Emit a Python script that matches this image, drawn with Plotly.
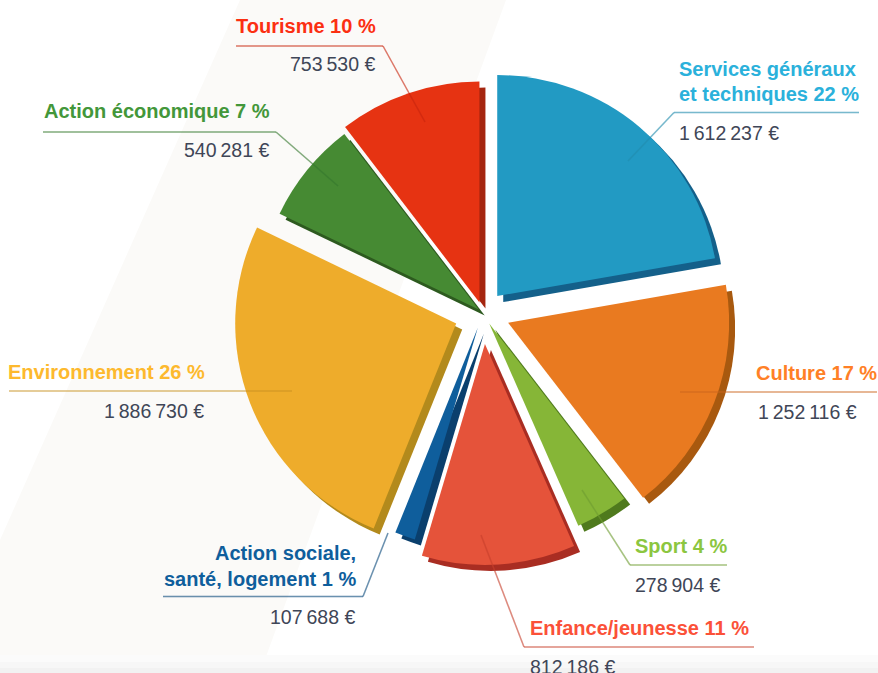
import plotly.graph_objects as go

W, H = 878, 673

categories = ["Services généraux et techniques", "Culture", "Sport", "Enfance/jeunesse",
              "Action sociale, santé, logement", "Environnement", "Action économique", "Tourisme"]
amounts = [1612237, 1252116, 278904, 812186, 107688, 1886730, 540281, 753530]

colors = ["#229ac3", "#e97a20", "#86b637", "#e5533a", "#0f5e9c", "#eeac2b", "#468a33", "#e63312"]
side_colors = ["#14608a", "#a8590f", "#4f7a1d", "#a92d22", "#0a3f6d", "#b38a1c", "#2d5a1f", "#a5250f"]
text_colors = ["#2bb1db", "#ff8026", "#8cc63f", "#fb5138", "#0f5e9c", "#fdb92e", "#43973a", "#fb2f12"]
pulls = [0.10, 0.122, 0.055, 0.14, 0.07, 0.13, 0.025, 0.05]

CX, CY, R = 483, 313, 221
OFF_X, OFF_Y = 6, 6


def px(x):
    return x / W


def py(y):
    return 1 - y / H


def fmt(v):
    return f"{v:,}".replace(",", "\u2009") + " €"


half = R * (1 + max(pulls))


def dom(dx=0, dy=0):
    return dict(x=[px(CX + dx - half), px(CX + dx + half)],
                y=[py(CY + dy + half), py(CY + dy - half)])


fig = go.Figure()
fig.add_trace(go.Pie(values=amounts, labels=categories, sort=False, direction="clockwise", rotation=0,
                     pull=pulls, domain=dom(OFF_X, OFF_Y), textinfo="none", hoverinfo="skip",
                     marker=dict(colors=side_colors, line=dict(width=0)), showlegend=False))
fig.add_trace(go.Pie(values=amounts, labels=categories, sort=False, direction="clockwise", rotation=0,
                     pull=pulls, domain=dom(), textinfo="none",
                     marker=dict(colors=colors, line=dict(width=0)), showlegend=False))

# Callout layout: title lines, anchor, text x, title y centres, amount x, amount y, leader polyline
callouts = [
    (0, ["Services généraux", "et techniques 22 %"], "left", 677, [69, 94], 677, 133, [(859, 112.5), (674, 112.5), (628, 161)]),
    (1, ["Culture 17 %"], "right", 879, [373], 859, 412, [(877, 392), (680, 392)]),
    (2, ["Sport 4 %"], "left", 633, [546], 633, 585, [(727, 565), (630, 565), (582, 490)]),
    (3, ["Enfance/jeunesse 11 %"], "left", 528, [628], 528, 667, [(754, 647), (524, 647), (481, 535)]),
    (4, ["Action sociale,", "santé, logement 1 %"], "right", 358, [553, 579], 357, 617, [(163, 596.5), (363, 596.5), (388, 533)]),
    (5, ["Environnement 26 %"], "right", 207, [372], 206, 411, [(9, 391), (292, 391)]),
    (6, ["Action économique 7 %"], "right", 272, [111], 271, 150, [(43, 132), (276, 132), (338, 186)]),
    (7, ["Tourisme 10 %"], "right", 378, [26], 377, 64, [(236, 46), (383, 46), (425, 122)]),
]

annotations = []
shapes = [
    dict(type="path", xref="paper", yref="paper", layer="below", line=dict(width=0), fillcolor="#fbfaf8",
         path=f"M {px(240)} {py(0)} L {px(506)} {py(0)} L {px(260)} {py(673)} L {px(0)} {py(673)} L {px(0)} {py(540)} Z"),
]
for y0, col in [(655, "#fbfbfb"), (662, "#f7f7f7"), (668, "#f2f2f2")]:
    shapes.append(dict(type="rect", xref="paper", yref="paper", layer="below", line=dict(width=0), fillcolor=col,
                       x0=0, x1=1, y0=py(H), y1=py(y0)))

for idx, lines, anchor, x, ys, ax, amount_y, leader in callouts:
    for line, y in zip(lines, ys):
        annotations.append(dict(text=f"<b>{line}</b>", x=px(x), y=py(y), xref="paper", yref="paper",
                                xanchor=anchor, yanchor="middle", showarrow=False,
                                font=dict(family="Liberation Sans", size=20, color=text_colors[idx])))
    annotations.append(dict(text=fmt(amounts[idx]), x=px(ax), y=py(amount_y),
                            xref="paper", yref="paper", xanchor=anchor, yanchor="middle", showarrow=False,
                            font=dict(family="Liberation Sans", size=19.5, color="#3f4657")))
    for (x0, y0), (x1, y1) in zip(leader, leader[1:]):
        for col, op in [(text_colors[idx], 0.55), ("#000000", 0.12)]:
            shapes.append(dict(type="line", xref="paper", yref="paper", layer="above",
                               x0=px(x0), y0=py(y0), x1=px(x1), y1=py(y1), opacity=op,
                               line=dict(color=col, width=1.5)))

fig.update_layout(width=W, height=H, margin=dict(l=0, r=0, t=0, b=0), paper_bgcolor="white",
                  showlegend=False, annotations=annotations, shapes=shapes)
fig.write_html("out.html", config={"displayModeBar": False},
               post_script="document.body.style.margin='0';document.body.style.overflow='hidden';")
